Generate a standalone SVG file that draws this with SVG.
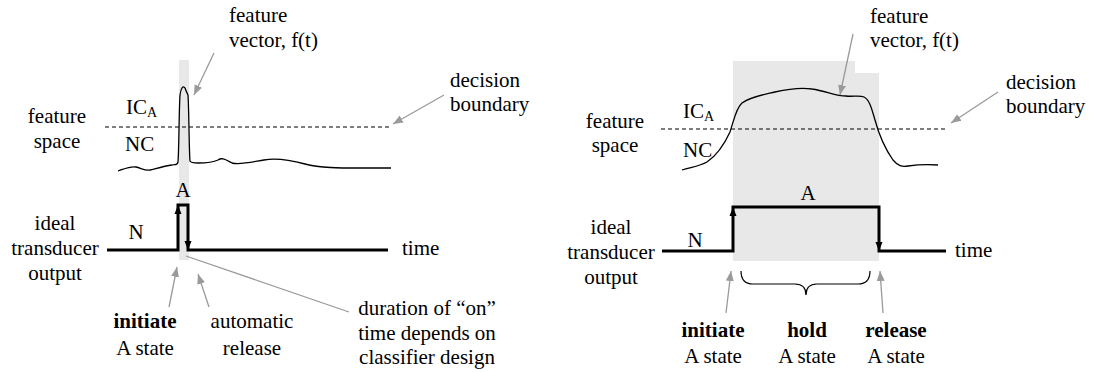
<svg xmlns="http://www.w3.org/2000/svg" width="1096" height="372" viewBox="0 0 1096 372">
  <style>
    text { font-family: "Liberation Serif", "Times New Roman", serif; font-size: 21px; fill: #000; }
    .mid { text-anchor: middle; }
    .b { font-weight: bold; }
    .sub { font-size: 14px; }
    .shade { fill: #e8e8e8; stroke: none; }
    .curve { fill: none; stroke: #000; stroke-width: 1.3; }
    .bound { fill: none; stroke: #000; stroke-width: 1.1; stroke-dasharray: 4 3; }
    .signal { fill: none; stroke: #000; stroke-width: 3; stroke-linejoin: miter; }
    .head { fill: #000; }
    .ptr { fill: none; stroke: #9a9a9a; stroke-width: 1.3; }
    .brace { fill: none; stroke: #000; stroke-width: 1.2; }
  </style>
  <defs>
    <marker id="grayHead" viewBox="0 0 10 10" refX="10" refY="5" markerWidth="10" markerHeight="10" markerUnits="userSpaceOnUse" orient="auto">
      <path d="M0,1 L10,5 L0,9 Z" fill="#9a9a9a"/>
    </marker>
  </defs>

  <!-- shaded active intervals -->
  <g id="shading">
    <rect class="shade" x="179" y="60" width="10" height="200"/>
    <path class="shade" d="M733,61 H855 V73 H879 V261 H733 Z"/>
  </g>

  <!-- left panel: brief spike -->
  <g id="left-feature-space">
    <text class="mid" x="57" y="123">feature</text>
    <text class="mid" x="57" y="148">space</text>
  </g>
  <g id="left-ica"><text x="126" y="114">IC<tspan class="sub" dy="3">A</tspan></text></g>
  <g id="left-nc"><text x="125" y="151">NC</text></g>
  <g id="left-boundary"><line class="bound" x1="105" y1="127" x2="390" y2="127"/></g>
  <g id="left-curve">
    <path class="curve" d="M118,171 C124,169 130,166 136,167 C141,168 145,171 150,170 C158,168 165,166 172,165 C175,164 177,166 178,162 C179,150 179,110 180,95 C181,88 183,85 185,88 C186,91 187,93 188,95 C189,110 189,150 190,161 C191,163 194,163 198,163 C205,163 212,163 218,160 C222,157 226,160 232,163 C240,165 252,162 264,160 C275,158 290,160 305,164 C320,168 340,168 360,168 L391,168"/>
  </g>
  <g id="left-vector-label">
    <text x="229" y="22">feature</text>
    <text x="229" y="47">vector, f(t)</text>
  </g>
  <g id="left-decision-label">
    <text x="450" y="87">decision</text>
    <text x="450" y="111">boundary</text>
  </g>
  <g id="left-output-label">
    <text class="mid" x="55" y="230">ideal</text>
    <text class="mid" x="55" y="255">transducer</text>
    <text class="mid" x="55" y="280">output</text>
  </g>
  <g id="left-signal">
    <path class="signal" d="M107,250 H178 V205 H188 V250 H388"/>
    <polygon class="head" points="178,205 174.5,214 181.5,214"/>
    <polygon class="head" points="188,250 184.5,241 191.5,241"/>
  </g>
  <g id="left-n"><text class="mid" x="136" y="239">N</text></g>
  <g id="left-a"><text class="mid" x="183" y="197">A</text></g>
  <g id="left-time"><text x="402" y="255">time</text></g>
  <g id="left-initiate">
    <text class="mid b" x="145" y="328">initiate</text>
    <text class="mid" x="145" y="355">A state</text>
  </g>
  <g id="left-auto">
    <text class="mid" x="252" y="328">automatic</text>
    <text class="mid" x="252" y="355">release</text>
  </g>
  <g id="left-duration">
    <text class="mid" x="427" y="315">duration of “on”</text>
    <text class="mid" x="427" y="340">time depends on</text>
    <text class="mid" x="427" y="364">classifier design</text>
  </g>

  <!-- right panel: sustained activation -->
  <g id="right-feature-space">
    <text class="mid" x="615" y="128">feature</text>
    <text class="mid" x="615" y="152">space</text>
  </g>
  <g id="right-ica"><text x="683" y="118">IC<tspan class="sub" dy="3">A</tspan></text></g>
  <g id="right-nc"><text x="683" y="157">NC</text></g>
  <g id="right-boundary"><line class="bound" x1="661" y1="129" x2="946" y2="129"/></g>
  <g id="right-curve">
    <path class="curve" d="M682,170 C692,167 700,166 707,162 C716,156 724,145 730,132 C734,120 736,108 742,103 C750,97 762,95 775,92 C788,89 800,87 812,89 C826,91 836,96 846,96 C852,97 860,95 864,97 C870,100 872,110 875,120 C879,135 886,150 893,160 C898,166 902,167 908,166 C915,165 925,164 938,165"/>
  </g>
  <g id="right-vector-label">
    <text x="870" y="23">feature</text>
    <text x="870" y="47">vector, f(t)</text>
  </g>
  <g id="right-decision-label">
    <text x="1006" y="89">decision</text>
    <text x="1006" y="113">boundary</text>
  </g>
  <g id="right-output-label">
    <text class="mid" x="611" y="234">ideal</text>
    <text class="mid" x="611" y="259">transducer</text>
    <text class="mid" x="611" y="284">output</text>
  </g>
  <g id="right-signal">
    <path class="signal" d="M662,251 H733 V207 H879 V251 H946"/>
    <polygon class="head" points="733,207 729.5,216 736.5,216"/>
    <polygon class="head" points="879,251 875.5,242 882.5,242"/>
  </g>
  <g id="right-n"><text class="mid" x="695" y="247">N</text></g>
  <g id="right-a"><text class="mid" x="808" y="200">A</text></g>
  <g id="right-time"><text x="955" y="257">time</text></g>
  <g id="right-brace">
    <path class="brace" d="M741,271 Q741,284 753,284 L795,284 Q806,284 806,295 Q806,284 817,284 L858,284 Q870,284 870,271"/>
  </g>
  <g id="right-initiate">
    <text class="mid b" x="713" y="337">initiate</text>
    <text class="mid" x="713" y="363">A state</text>
  </g>
  <g id="right-hold">
    <text class="mid b" x="807" y="337">hold</text>
    <text class="mid" x="807" y="363">A state</text>
  </g>
  <g id="right-release">
    <text class="mid b" x="896" y="337">release</text>
    <text class="mid" x="896" y="363">A state</text>
  </g>

  <!-- pointer connectors -->
  <g id="connectors">
    <line class="ptr" x1="214" y1="53" x2="194" y2="95" marker-end="url(#grayHead)"/>
    <line class="ptr" x1="444" y1="95" x2="393" y2="124" marker-end="url(#grayHead)"/>
    <line class="ptr" x1="169" y1="307" x2="177" y2="267" marker-end="url(#grayHead)"/>
    <line class="ptr" x1="209" y1="307" x2="198" y2="274" marker-end="url(#grayHead)"/>
    <line class="ptr" x1="186" y1="256" x2="349" y2="312"/>
    <line class="ptr" x1="853" y1="34" x2="840" y2="95" marker-end="url(#grayHead)"/>
    <line class="ptr" x1="998" y1="92" x2="951" y2="123" marker-end="url(#grayHead)"/>
    <line class="ptr" x1="726" y1="313" x2="731" y2="271" marker-end="url(#grayHead)"/>
    <line class="ptr" x1="883" y1="313" x2="880" y2="271" marker-end="url(#grayHead)"/>
  </g>
</svg>
